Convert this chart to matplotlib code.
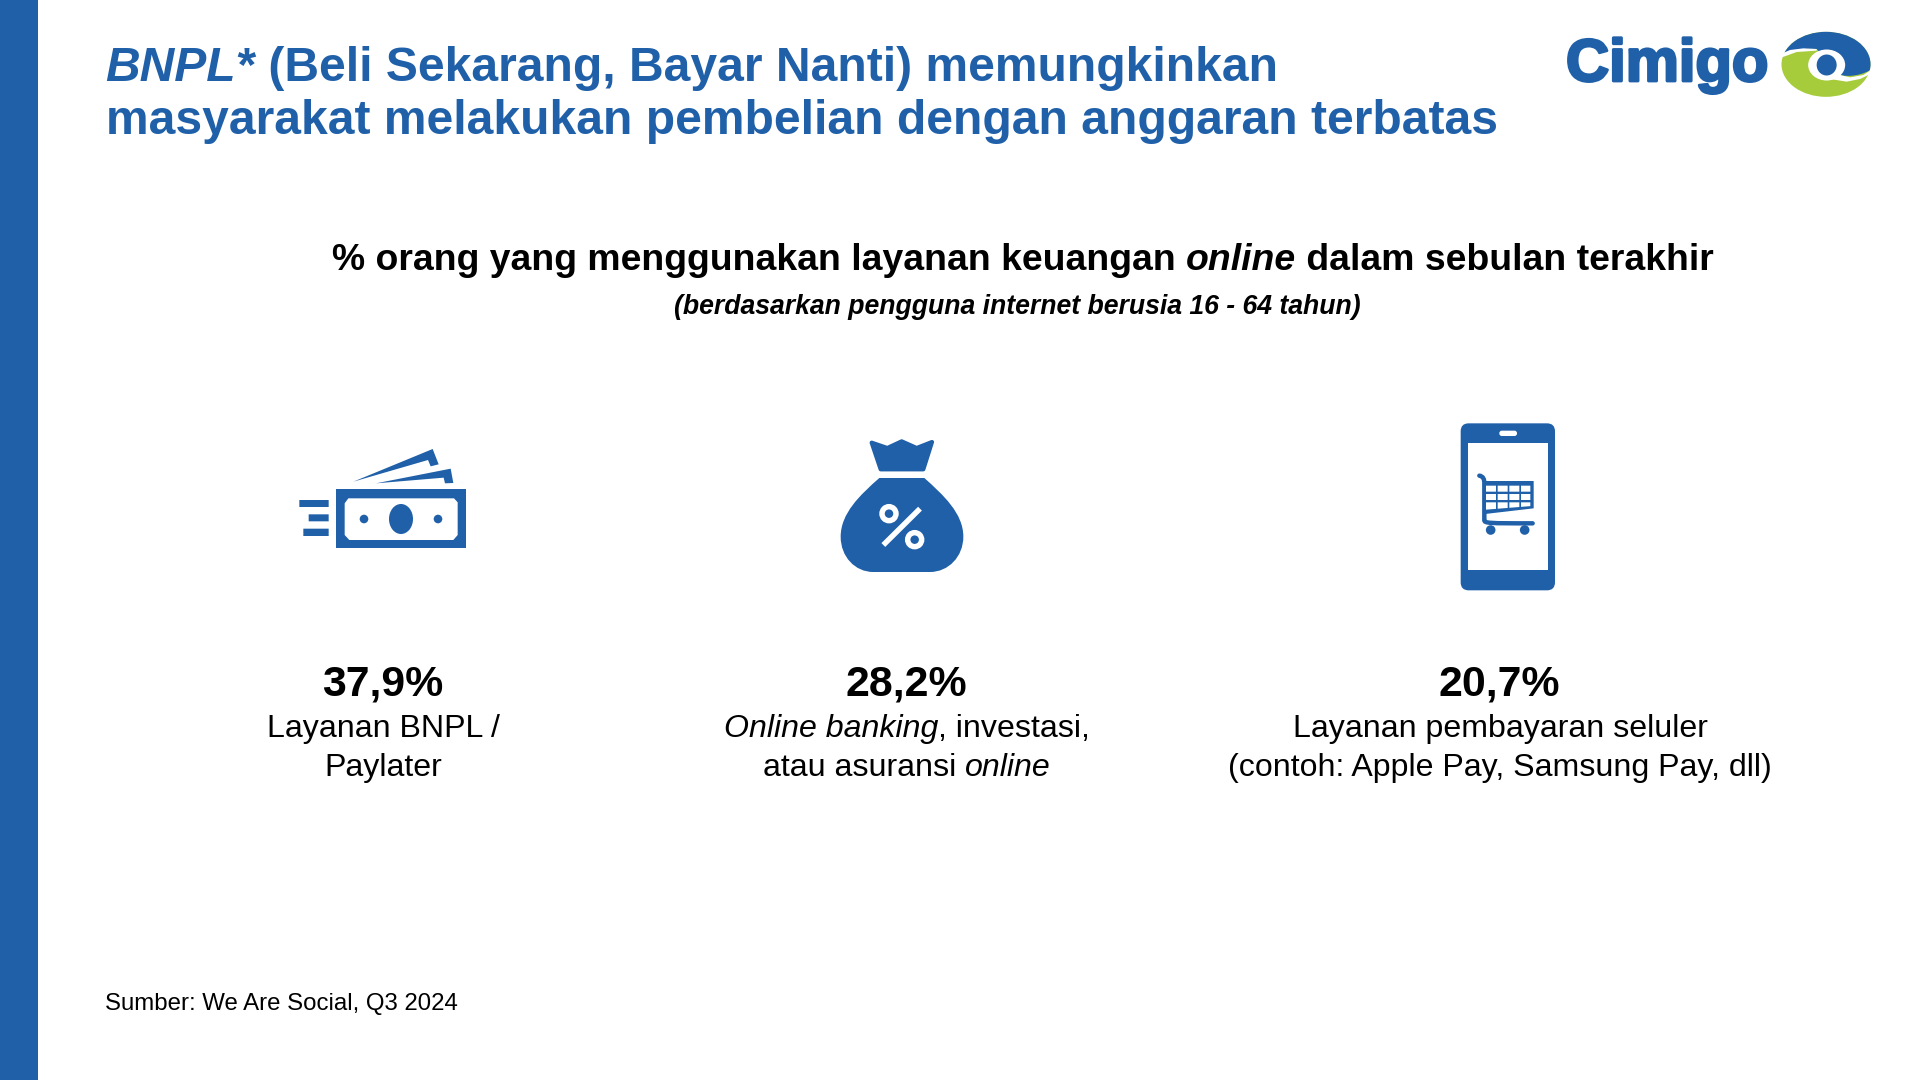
import matplotlib
matplotlib.use("Agg")
import matplotlib.pyplot as plt
from matplotlib.patches import Rectangle, Ellipse, Circle, Polygon, PathPatch, FancyBboxPatch
from matplotlib.path import Path
from matplotlib import patheffects

plt.rcParams['font.family'] = ['Liberation Sans', 'DejaVu Sans']

BLUE = "#1F60A9"
GREEN = "#A6CC3C"

title_lines = [
    [("BNPL*", "italic"), (" (Beli Sekarang, Bayar Nanti) memungkinkan", "normal")],
    [("masyarakat melakukan pembelian dengan anggaran terbatas", "normal")],
]
subtitle = [("% orang yang menggunakan layanan keuangan ", "normal"), ("online", "italic"),
            (" dalam sebulan terakhir", "normal")]
base_note = "(berdasarkan pengguna internet berusia 16 - 64 tahun)"
values = ["37,9%", "28,2%", "20,7%"]
labels_1 = [[("Layanan BNPL /", "normal")],
            [("Online banking", "italic"), (", investasi,", "normal")],
            [("Layanan pembayaran seluler", "normal")]]
labels_2 = [[("Paylater", "normal")],
            [("atau asuransi ", "normal"), ("online", "italic")],
            [("(contoh: Apple Pay, Samsung Pay, dll)", "normal")]]
source = "Sumber: We Are Social, Q3 2024"

fig = plt.figure(figsize=(19.2, 10.8), dpi=100)
ax = fig.add_axes([0, 0, 1, 1])
ax.set_xlim(0, 1920)
ax.set_ylim(1080, 0)
ax.axis("off")
renderer = fig.canvas.get_renderer()


def run_width(txt, size, weight, style):
    # x's on both ends so that spaces at the edges get counted
    t1 = ax.text(0, 0, "x" + txt + "x", fontsize=size, fontweight=weight, fontstyle=style)
    t2 = ax.text(0, 0, "xx", fontsize=size, fontweight=weight, fontstyle=style)
    w = t1.get_window_extent(renderer).width - t2.get_window_extent(renderer).width
    t1.remove()
    t2.remove()
    return w


def draw_runs(runs, x, y, size, weight="normal", color="black", center=True):
    widths = [run_width(r[0], size, weight, r[1]) for r in runs]
    if center:
        x = x - sum(widths) / 2
    for (txt, style), w in zip(runs, widths):
        ax.text(x, y, txt, fontsize=size, fontweight=weight, fontstyle=style, color=color,
                ha="left", va="baseline")
        x += w


def local(ox, oy):
    # icons were measured on 3x crops
    return lambda pts: [(ox + a / 3, oy + b / 3) for a, b in pts]


# left band
ax.add_patch(Rectangle((0, 0), 38, 1080, color=BLUE, lw=0))

# headings
draw_runs(title_lines[0], 105.5, 81, 34.55, "bold", BLUE, center=False)
draw_runs(title_lines[1], 105.5, 133.5, 34.55, "bold", BLUE, center=False)
draw_runs(subtitle, 1023, 270, 26.9, "bold")
ax.text(1017.5, 314, base_note, fontsize=19.2, fontweight="bold", fontstyle="italic",
        ha="center", va="baseline")

# stats
centers = [382.5, 906, 1499]
centers_lab = [383, 907, 1500]
for i in range(3):
    ax.text(centers[i], 695, values[i], fontsize=30.8, fontweight="bold", ha="center", va="baseline")
    draw_runs(labels_1[i], centers_lab[i], 737, 23.1)
    draw_runs(labels_2[i], centers_lab[i], 776, 23.1)

ax.text(105, 1010, source, fontsize=17.3, ha="left", va="baseline")

# money icon
m = local(280, 420)
(x0, y0), (x1, y1) = m([(168, 208), (558, 385)])
ax.add_patch(Rectangle((x0, y0), x1 - x0, y1 - y0, color=BLUE, lw=0))
ax.add_patch(Polygon(m([(205, 235), (522, 235), (533, 247), (533, 345), (520, 360), (208, 360),
                        (194, 345), (194, 250)]), color="white", lw=0))
ax.add_patch(Ellipse(m([(363, 297)])[0], 24, 30, color=BLUE, lw=0))
for p in [(252, 297), (474, 297)]:
    ax.add_patch(Circle(m([p])[0], 4.3, color=BLUE, lw=0))
for a, b, c, d in [(58, 240, 146, 261), (86, 283, 146, 304), (70, 326, 146, 348)]:
    (x0, y0), (x1, y1) = m([(a, b), (c, d)])
    ax.add_patch(Rectangle((x0, y0), x1 - x0, y1 - y0, color=BLUE, lw=0, snap=False))
ax.add_patch(Polygon(m([(220, 185), (458, 87), (476, 133), (452, 139), (444, 120)]), color=BLUE, lw=0))
ax.add_patch(Polygon(m([(288, 190), (512, 146), (520, 189), (495, 190), (491, 173)]), color=BLUE, lw=0))

# bag icon
b = local(820, 420)
ax.add_patch(Polygon(b([(155, 68), (202, 84), (245, 64), (290, 84), (336, 66), (310, 148), (182, 148)]),
                     facecolor=BLUE, edgecolor=BLUE, lw=3, joinstyle="round"))
body = [(178, 174), (313, 174), (370, 225), (430, 280), (430, 350), (430, 410), (385, 456), (330, 456),
        (160, 456), (105, 456), (62, 410), (62, 350), (62, 280), (120, 225), (178, 174)]
codes = [Path.MOVETO, Path.LINETO, Path.CURVE4, Path.CURVE4, Path.CURVE4, Path.CURVE4, Path.CURVE4, Path.CURVE4,
         Path.LINETO, Path.CURVE4, Path.CURVE4, Path.CURVE4, Path.CURVE4, Path.CURVE4, Path.CURVE4]
ax.add_patch(PathPatch(Path(b(body), codes), color=BLUE, lw=0))
(x0, y0), (x1, y1) = b([(190, 375), (300, 266)])
ax.plot([x0, x1], [y0, y1], color="white", lw=3.9, solid_capstyle="butt")
for p in [(207, 281), (284, 359)]:
    ax.add_patch(Circle(b([p])[0], 7.0, facecolor="none", edgecolor="white", lw=3.9))

# phone icon
f = local(1440, 410)
(x0, y0), (x1, y1) = f([(62, 40), (345, 541)])
ax.add_patch(FancyBboxPatch((x0 + 8, y0 + 8), x1 - x0 - 16, y1 - y0 - 16, boxstyle="round,pad=8,rounding_size=8",
                            color=BLUE, lw=0))
(x0, y0), (x1, y1) = f([(84, 100), (324, 481)])
ax.add_patch(Rectangle((x0, y0), x1 - x0, y1 - y0, color="white", lw=0))
(x0, y0), (x1, y1) = f([(178, 62), (231, 78)])
ax.add_patch(FancyBboxPatch((x0 + 2.5, y0 + 2.5), x1 - x0 - 5, y1 - y0 - 5, boxstyle="round,pad=2.5,rounding_size=2.5",
                            color="white", lw=0))
ax.add_patch(Polygon(f([(135, 213), (281, 213), (281, 295), (135, 312)]), color=BLUE, lw=0))
handle = [(118, 197), (130, 199), (133, 208), (133, 220), (133, 330), (133, 340), (145, 340), (278, 340)]
hcodes = [Path.MOVETO, Path.CURVE4, Path.CURVE4, Path.CURVE4, Path.LINETO, Path.CURVE4, Path.CURVE4, Path.CURVE4]
ax.add_patch(PathPatch(Path(f(handle), hcodes), facecolor="none", edgecolor=BLUE, lw=3.2, capstyle="round"))
cols = [(138, 168), (173, 203), (208, 238), (243, 271)]
for a, c in cols:
    ax.add_patch(Polygon(f([(a, 227), (c, 227), (c, 245), (a, 245)]), color="white", lw=0, snap=False))
    ax.add_patch(Polygon(f([(a, 252), (c, 252), (c, 270), (a, 270)]), color="white", lw=0, snap=False))
    # last row follows the slanted bottom of the basket
    ax.add_patch(Polygon(f([(a, 277), (c, 277), (c, 299 - (c - 138) * 0.08), (a, 299 - (a - 138) * 0.08)]),
                         color="white", lw=0, snap=False))
for p in [(152, 360), (254, 360)]:
    ax.add_patch(Circle(f([p])[0], 4.8, color=BLUE, lw=0))

# logo
g = local(1520, 0)
logo = ax.text(1566, 81, "Cimigo", fontsize=43, fontweight="bold", color=BLUE, ha="left", va="baseline")
logo.set_path_effects([patheffects.withStroke(linewidth=2, foreground=BLUE)])
ec = g([(918, 193)])[0]
green = Ellipse(ec, 89, 65, color=GREEN, lw=0)
ax.add_patch(green)
top = [(775, 165), (810, 150), (850, 145), (890, 147), (960, 225), (990, 232), (1030, 225), (1060, 205),
       (1060, 50), (775, 50), (775, 165)]
tcodes = [Path.MOVETO, Path.CURVE4, Path.CURVE4, Path.CURVE4, Path.LINETO, Path.CURVE4, Path.CURVE4, Path.CURVE4,
          Path.LINETO, Path.LINETO, Path.CLOSEPOLY]
blue_part = PathPatch(Path(g(top), tcodes), color=BLUE, lw=0)
ax.add_patch(blue_part)
blue_part.set_clip_path(Ellipse(ec, 89, 65, transform=ax.transData))
white_band = Polygon(g([(775, 176), (830, 156), (890, 152), (890, 147), (850, 145), (810, 150), (775, 165)]),
                     color="white", lw=0)
ax.add_patch(white_band)
crescent = Polygon(g([(930, 237), (980, 245), (1020, 237), (1060, 218), (1060, 205), (1030, 225), (990, 232), (960, 225)]),
                   color="white", lw=0)
ax.add_patch(crescent)
ax.add_patch(Ellipse(g([(920, 195)])[0], 37, 31, color="white", lw=0))
ax.add_patch(Ellipse(g([(920, 195)])[0], 20, 21, color=BLUE, lw=0))

fig.savefig("out.png", dpi=100)
